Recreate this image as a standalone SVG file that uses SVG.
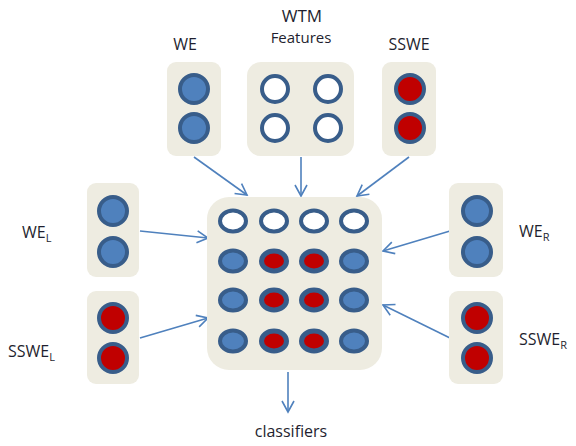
<svg xmlns="http://www.w3.org/2000/svg" width="576" height="446" viewBox="0 0 576 446">
<defs>
<marker id="arr" markerWidth="14" markerHeight="14" refX="12" refY="7" orient="auto" markerUnits="userSpaceOnUse">
<path d="M1,1 L12,7 L1,13" fill="none" stroke="#4f81bd" stroke-width="1.6"/>
</marker>
</defs>
<style>
.box{fill:#eeece1}
.b{fill:#4f81bd;stroke:#385d8a;stroke-width:4}
.w{fill:#ffffff;stroke:#385d8a;stroke-width:4}
.r{fill:#c00000;stroke:#385d8a;stroke-width:4}
.rr{fill:#c00000;stroke:#385d8a;stroke-width:5}
.lbl{font-family:"Open Sans","Liberation Sans",sans-serif;font-size:16px;fill:#1f1f2f}
.sub{font-size:11px}
.con{stroke:#4f81bd;stroke-width:1.6;fill:none;marker-end:url(#arr)}
</style>
<rect width="576" height="446" fill="#ffffff"/>

<g id="connectors">
<line class="con" x1="194" y1="157" x2="247" y2="195"/>
<line class="con" x1="301" y1="157" x2="301" y2="196"/>
<line class="con" x1="409" y1="157" x2="357" y2="196"/>
<line class="con" x1="140" y1="231" x2="208" y2="238"/>
<line class="con" x1="140" y1="338" x2="208" y2="318"/>
<line class="con" x1="450" y1="231" x2="383" y2="251"/>
<line class="con" x1="450" y1="338" x2="383" y2="305"/>
<line class="con" x1="288" y1="372" x2="288" y2="412"/>
</g>

<g id="we">
<rect class="box" x="167" y="62" width="54" height="94" rx="9"/>
<circle class="b" cx="194" cy="89" r="14"/>
<circle class="b" cx="194" cy="128" r="14"/>
<text class="lbl" x="185" y="50" text-anchor="middle">WE</text>
</g>

<g id="wtm">
<rect class="box" x="247" y="62" width="107" height="94" rx="14"/>
<circle class="w" cx="275" cy="89" r="13"/>
<circle class="w" cx="328" cy="89" r="13"/>
<circle class="w" cx="275" cy="128" r="13"/>
<circle class="w" cx="328" cy="128" r="13"/>
<text class="lbl" x="302" y="22" text-anchor="middle" style="font-size:17px">WTM</text>
<text class="lbl" x="301" y="43" text-anchor="middle" style="font-size:15px">Features</text>
</g>

<g id="sswe">
<rect class="box" x="382" y="62" width="54" height="94" rx="9"/>
<circle class="r" cx="410" cy="89" r="14"/>
<circle class="r" cx="410" cy="128" r="14"/>
<text class="lbl" x="409" y="50" text-anchor="middle">SSWE</text>
</g>

<g id="we_l">
<rect class="box" x="87" y="183" width="52" height="94" rx="9"/>
<circle class="b" cx="113" cy="211" r="14"/>
<circle class="b" cx="113" cy="252" r="14"/>
<text class="lbl" x="22" y="238">WE<tspan class="sub" dy="4">L</tspan></text>
</g>

<g id="sswe_l">
<rect class="box" x="87" y="291" width="52" height="93" rx="9"/>
<circle class="r" cx="113" cy="318" r="14"/>
<circle class="r" cx="113" cy="358" r="14"/>
<text class="lbl" x="8" y="357">SSWE<tspan class="sub" dy="4">L</tspan></text>
</g>

<g id="we_r">
<rect class="box" x="449" y="183" width="54" height="94" rx="9"/>
<circle class="b" cx="477" cy="211" r="14"/>
<circle class="b" cx="477" cy="252" r="14"/>
<text class="lbl" x="519" y="237">WE<tspan class="sub" dy="4">R</tspan></text>
</g>

<g id="sswe_r">
<rect class="box" x="449" y="291" width="54" height="93" rx="9"/>
<circle class="r" cx="477" cy="318" r="14"/>
<circle class="r" cx="477" cy="358" r="14"/>
<text class="lbl" x="519" y="345">SSWE<tspan class="sub" dy="4">R</tspan></text>
</g>

<g id="matrix">
<rect class="box" x="207" y="197" width="175" height="173" rx="22"/>
<ellipse class="w" cx="233" cy="221" rx="13" ry="10.5"/>
<ellipse class="w" cx="274" cy="221" rx="13" ry="10.5"/>
<ellipse class="w" cx="314" cy="221" rx="13" ry="10.5"/>
<ellipse class="w" cx="354" cy="221" rx="13" ry="10.5"/>
<ellipse class="b" cx="233" cy="261" rx="13" ry="10.5"/>
<ellipse class="rr" cx="274" cy="261" rx="12.5" ry="10"/>
<ellipse class="rr" cx="314" cy="261" rx="12.5" ry="10"/>
<ellipse class="b" cx="354" cy="261" rx="13" ry="10.5"/>
<ellipse class="b" cx="233" cy="300" rx="13" ry="10.5"/>
<ellipse class="rr" cx="274" cy="300" rx="12.5" ry="10"/>
<ellipse class="rr" cx="314" cy="300" rx="12.5" ry="10"/>
<ellipse class="b" cx="354" cy="300" rx="13" ry="10.5"/>
<ellipse class="b" cx="233" cy="341" rx="13" ry="10.5"/>
<ellipse class="rr" cx="274" cy="341" rx="12.5" ry="10"/>
<ellipse class="rr" cx="314" cy="341" rx="12.5" ry="10"/>
<ellipse class="b" cx="354" cy="341" rx="13" ry="10.5"/>
</g>

<g id="classifiers">
<text class="lbl" x="291" y="437" text-anchor="middle">classifiers</text>
</g>
</svg>
